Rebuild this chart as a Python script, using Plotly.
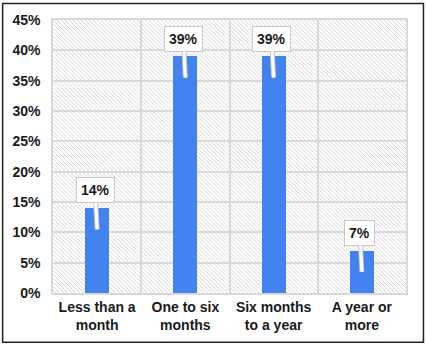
import base64
import plotly.graph_objects as go

categories = ["Less than a<br>month", "One to six<br>months", "Six months<br>to a year", "A year or<br>more"]
values = [14, 39, 39, 7]
label_texts = ["14%", "39%", "39%", "7%"]
y_ticks = [0, 5, 10, 15, 20, 25, 30, 35, 40, 45]
y_tick_labels = [f"{v}%" for v in y_ticks]

W, H = 426, 345
ML, MR, MT, MB = 52, 20, 18, 52
PW, PH = W - ML - MR, H - MT - MB

FONT = "Liberation Sans, Arial, sans-serif"
BAR = "#4283ef"
GRID = "#d9d9d9"

svg = (
    f'<svg xmlns="http://www.w3.org/2000/svg" width="{PW}" height="{PH}">'
    '<defs><pattern id="h" patternUnits="userSpaceOnUse" width="4" height="4">'
    '<rect width="4" height="4" fill="#ffffff"/>'
    '<path d="M0,0 L4,4 M-1,3 L1,5 M3,-1 L5,1" stroke="#d4d4d4" stroke-width="1"/>'
    '</pattern></defs>'
    f'<rect width="{PW}" height="{PH}" fill="url(#h)"/></svg>'
)
src = "data:image/svg+xml;base64," + base64.b64encode(svg.encode()).decode()

fig = go.Figure()
fig.add_trace(go.Bar(
    x=categories, y=values, width=0.27,
    marker=dict(color=BAR, line=dict(width=0)),
    hoverinfo="skip",
))

annotations = []
for cat, v, t in zip(categories, values, label_texts):
    for color, width in (("#c4c4c4", 5), ("#ffffff", 3)):
        annotations.append(dict(
            x=cat, y=v - 3.5, xref="x", yref="y",
            text=f"<b>{t}</b>", showarrow=True,
            ax=-2, ay=-39, axref="pixel", ayref="pixel",
            arrowhead=0, arrowwidth=width, arrowcolor=color,
            bgcolor="#ffffff", bordercolor="#c8c8c8", borderwidth=1, borderpad=4,
            font=dict(family=FONT, size=14, color="#1a1a1a"),
        ))

fig.update_layout(
    width=W, height=H,
    margin=dict(l=ML, r=MR, t=MT, b=MB),
    paper_bgcolor="#ffffff",
    plot_bgcolor="rgba(0,0,0,0)",
    showlegend=False,
    annotations=annotations,
    images=[dict(source=src, xref="paper", yref="paper", x=0, y=1,
                 sizex=1, sizey=1, sizing="stretch", layer="below",
                 xanchor="left", yanchor="top")],
    shapes=[dict(type="rect", xref="paper", yref="paper",
                 x0=(1.5 - ML) / PW, x1=(W - 2.5 - ML) / PW,
                 y0=(PH + MT - (H - 2.5)) / PH, y1=(PH + MT - 1.5) / PH,
                 line=dict(color="#222222", width=1.5), layer="above")],
    xaxis=dict(
        type="category", tickson="boundaries", showgrid=True,
        gridcolor=GRID, gridwidth=1.5, showline=True, linecolor=GRID,
        linewidth=1.5, mirror=True, ticks="", ticklen=0,
        tickfont=dict(family=FONT, size=14, color="#1a1a1a", weight="bold"),
    ),
    yaxis=dict(
        range=[0, 45], tickmode="array", tickvals=y_ticks, ticktext=y_tick_labels,
        showgrid=True, gridcolor=GRID, gridwidth=1.5, zeroline=False,
        showline=True, linecolor=GRID, linewidth=1.5, mirror=True,
        ticks="outside", ticklen=8, tickcolor="rgba(0,0,0,0)",
        tickfont=dict(family=FONT, size=14, color="#1a1a1a", weight="bold"),
    ),
    bargap=0,
)

fig.write_html("out.html")
